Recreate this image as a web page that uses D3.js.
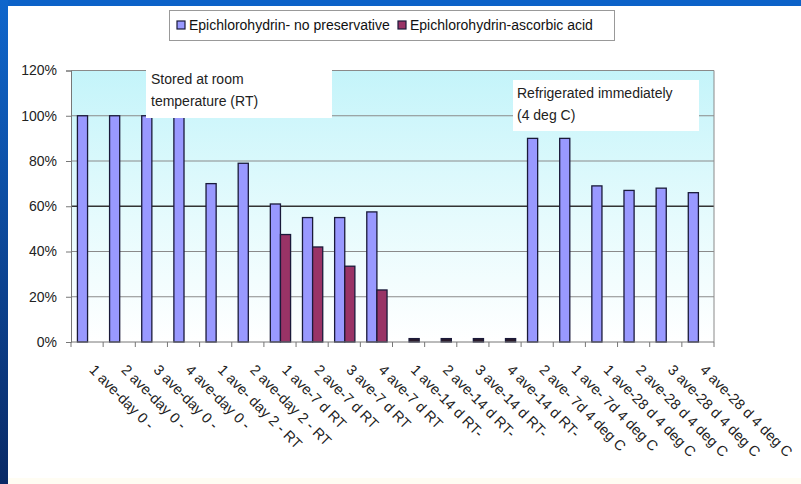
<!DOCTYPE html>
<html>
<head>
<meta charset="utf-8">
<script src="https://cdn.jsdelivr.net/npm/d3@7"></script>
<style>
  body { margin: 0; background: #fff; }
  svg { display: block; font-family: "Liberation Sans", Arial, sans-serif; }
</style>
</head>
<body>
<div id="chart"></div>
<script>
// categories (x axis) and the two series, in percent
var categories = [
  "1 ave-day 0 -", "2 ave-day 0 -", "3 ave-day 0 -", "4 ave-day 0 -",
  "1 ave- day 2 - RT", "2 ave-day 2 - RT",
  "1 ave-7 d RT", "2 ave-7 d RT", "3 ave-7 d RT", "4 ave-7 d RT",
  "1 ave-14 d RT-", "2 ave-14 d RT-", "3 ave-14 d RT-", "4 ave-14 d RT-",
  "2 ave- 7d 4 deg C", "1 ave- 7d 4 deg C",
  "1 ave-28 d 4 deg C", "2 ave-28 d 4 deg C", "3 ave-28 d 4 deg C", "4 ave-28 d 4 deg C"
];
var seriesNames = ["Epichlorohydrin- no preservative", "Epichlorohydrin-ascorbic acid"];
var noPreservative = [100, 100, 100, 100, 70, 79, 61, 55, 55, 57.5, null, null, null, null, 90, 90, 69, 67, 68, 66];
var ascorbicAcid   = [null, null, null, null, null, null, 47.5, 42, 33.5, 23, 1.5, 1.5, 1.5, 1.5, null, null, null, null, null, null];
var yTicks = [0, 20, 40, 60, 80, 100, 120];
var seriesColors = ["#9999ff", "#993366"];

var W = 801, H = 484;
var margin = {top: 70.5, right: 87, bottom: 142, left: 71};

var svg = d3.select("#chart").append("svg")
    .attr("width", W)
    .attr("height", H);

// slide frame
var defs = svg.append("defs");
var side = defs.append("linearGradient").attr("id", "side")
    .attr("x1", 0).attr("y1", 0).attr("x2", 0).attr("y2", 1);
side.append("stop").attr("offset", "0%").attr("stop-color", "#0f66cc");
side.append("stop").attr("offset", "100%").attr("stop-color", "#0a2a66");
var plotBg = defs.append("linearGradient").attr("id", "plotbg")
    .attr("x1", 0).attr("y1", 0).attr("x2", 0).attr("y2", 1);
plotBg.append("stop").attr("offset", "0%").attr("stop-color", "#c4f4fa");
plotBg.append("stop").attr("offset", "55%").attr("stop-color", "#e6fbfd");
plotBg.append("stop").attr("offset", "100%").attr("stop-color", "#ffffff");

svg.append("rect").attr("x", 0).attr("y", H - 6).attr("width", W).attr("height", 6).attr("fill", "#fffdf3");
svg.append("rect").attr("x", 0).attr("y", 0).attr("width", W).attr("height", 6).attr("fill", "#0c62c8");
svg.append("rect").attr("x", 0).attr("y", 0).attr("width", 8).attr("height", H).attr("fill", "url(#side)");

var x = d3.scaleBand()
    .domain(categories)
    .range([margin.left, W - margin.right])
    .padding(0);

var bw = x.bandwidth();
var x1 = d3.scaleBand()
    .domain(seriesNames)
    .range([bw * 0.2, bw * 0.83])
    .padding(0);

var y = d3.scaleLinear()
    .domain([0, 120])
    .range([H - margin.bottom, margin.top]);

// plot area background
svg.append("rect")
    .attr("x", x.range()[0]).attr("y", y(120))
    .attr("width", x.range()[1] - x.range()[0])
    .attr("height", y(0) - y(120))
    .attr("fill", "url(#plotbg)");

// gridlines
svg.append("g").selectAll("line")
  .data(yTicks.filter(function(t) { return t > 0; }))
  .enter().append("line")
    .attr("x1", x.range()[0]).attr("x2", x.range()[1])
    .attr("y1", function(d) { return y(d); })
    .attr("y2", function(d) { return y(d); })
    .attr("stroke", function(d) { return d === 60 ? "#333" : "#8a8a8a"; })
    .attr("stroke-width", function(d) { return d === 60 ? 1.4 : 1; });

// right border of plot area
svg.append("line")
    .attr("x1", x.range()[1]).attr("x2", x.range()[1])
    .attr("y1", y(120)).attr("y2", y(0))
    .attr("stroke", "#8a8a8a");

// bars
var rows = categories.map(function(c, i) {
  return {cat: c, values: [noPreservative[i], ascorbicAcid[i]]};
});

var groups = svg.append("g").selectAll("g")
  .data(rows)
  .enter().append("g")
    .attr("transform", function(d) { return "translate(" + x(d.cat) + ",0)"; });

groups.selectAll("rect")
  .data(function(d) {
    return d.values.map(function(v, k) { return {name: seriesNames[k], value: v, k: k}; })
      .filter(function(e) { return e.value != null; });
  })
  .enter().append("rect")
    .attr("x", function(d) { return x1(d.name); })
    .attr("y", function(d) { return y(d.value); })
    .attr("width", x1.bandwidth())
    .attr("height", function(d) { return y(0) - y(d.value); })
    .attr("fill", function(d) { return d.value < 5 ? "#2a1a2a" : seriesColors[d.k]; })
    .attr("stroke", "#1a1a3a")
    .attr("stroke-width", 1.3);

// annotation boxes (drawn over the plot like the text boxes in the slide)
var notes = [
  {x: 146, y: 60, w: 186, h: 58, lines: ["Stored at room", "temperature (RT)"], tx: 151, ty: 84},
  {x: 513, y: 80, w: 186, h: 51, lines: ["Refrigerated immediately", "(4 deg C)"], tx: 517, ty: 98}
];
var noteG = svg.append("g").selectAll("g").data(notes).enter().append("g");
noteG.append("rect")
    .attr("x", function(d) { return d.x; }).attr("y", function(d) { return d.y; })
    .attr("width", function(d) { return d.w; }).attr("height", function(d) { return d.h; })
    .attr("fill", "#fff");
noteG.each(function(d) {
  var t = d3.select(this).append("text")
      .attr("x", d.tx).attr("y", d.ty)
      .attr("font-size", 14).attr("fill", "#222");
  d.lines.forEach(function(l, i) {
    t.append("tspan").attr("x", d.tx).attr("dy", i === 0 ? 0 : 22).text(l);
  });
});

// y axis
var yAxis = svg.append("g")
    .attr("transform", "translate(" + margin.left + ",0)")
    .call(d3.axisLeft(y).tickValues(yTicks).tickSize(5).tickPadding(9)
      .tickFormat(function(d) { return d + "%"; }));
yAxis.select(".domain").attr("stroke", "#777");
yAxis.selectAll(".tick line").attr("stroke", "#777");
yAxis.selectAll("text").attr("font-size", 14).attr("fill", "#222")
    .attr("font-family", "Liberation Sans, Arial, sans-serif");

// x axis
var xAxis = svg.append("g")
    .attr("transform", "translate(0," + y(0) + ")");
xAxis.append("line")
    .attr("x1", x.range()[0]).attr("x2", x.range()[1])
    .attr("stroke", "#777");
xAxis.selectAll("line.tk")
  .data(d3.range(categories.length + 1))
  .enter().append("line")
    .attr("class", "tk")
    .attr("x1", function(i) { return x.range()[0] + i * bw; })
    .attr("x2", function(i) { return x.range()[0] + i * bw; })
    .attr("y1", 0).attr("y2", 5)
    .attr("stroke", "#777");
xAxis.selectAll("text")
  .data(categories)
  .enter().append("text")
    .attr("transform", function(d) {
      return "translate(" + (x(d) + bw / 2 + 9) + ",21) rotate(45)";
    })
    .attr("dy", "0.75em")
    .attr("font-size", 14.5)
    .attr("fill", "#222")
    .text(function(d) { return d; });

// legend
var legend = svg.append("g");
legend.append("rect")
    .attr("x", 169.5).attr("y", 10.5).attr("width", 445).attr("height", 30)
    .attr("fill", "#fff").attr("stroke", "#999");
var legX = [177, 398];
seriesNames.forEach(function(name, k) {
  legend.append("rect")
      .attr("x", legX[k]).attr("y", 21).attr("width", 8).attr("height", 8)
      .attr("fill", seriesColors[k]).attr("stroke", "#1a1a3a").attr("stroke-width", 1.2);
  legend.append("text")
      .attr("x", legX[k] + 12).attr("y", 30)
      .attr("font-size", 14).attr("fill", "#111")
      .text(name);
});
</script>
</body>
</html>
